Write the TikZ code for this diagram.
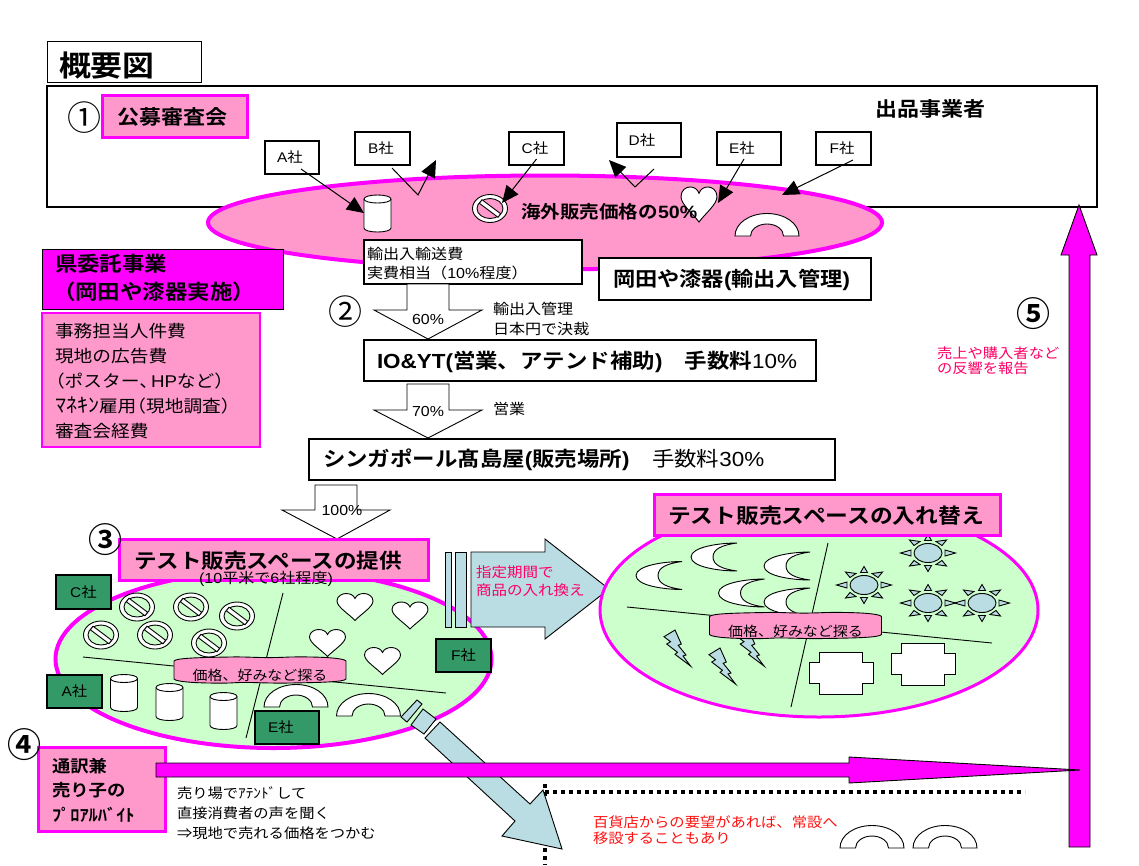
\documentclass[tikz,border=0pt]{standalone}
\usepackage{fontspec}
\usetikzlibrary{arrows.meta}
\setmainfont{Noto Sans CJK JP}[BoldFont={Noto Sans CJK JP Bold},FakeStretch=1.1]
\newfontfamily\latf{Liberation Sans}[FakeStretch=1.1]
\newfontfamily\circf{Noto Sans CJK JP}[BoldFont={Noto Sans CJK JP Bold}]
\newcommand\lat[1]{{\latf #1}}
\definecolor{pinkfill}{HTML}{FF99CC}
\definecolor{magentaline}{HTML}{FF00FF}
\definecolor{greenfill}{HTML}{CCFFCC}
\definecolor{darkgreenfill}{HTML}{339966}
\definecolor{bluefill}{HTML}{B9DDE2}
\definecolor{pinktext}{HTML}{FF0066}
\definecolor{redtext}{HTML}{FF1010}
\tikzset{
  fs/.style={font=\fontsize{#1}{#1}\selectfont},
  fsb/.style={font=\bfseries\fontsize{#1}{#1}\selectfont},
  tx/.style={inner sep=0pt,outer sep=0pt},
  txw/.style={inner sep=0pt,outer sep=0pt,anchor=west},
  whitebox/.style={draw=black,line width=2pt,fill=white,inner sep=0pt},
  pinkbox/.style={draw=magentaline,line width=3pt,fill=pinkfill,inner sep=0pt},
  greenbox/.style={draw=black,line width=2.5pt,fill=darkgreenfill,inner sep=0pt},
  conn/.style={draw=black,line width=1pt,-{Triangle[length=17pt,width=15pt]}},
  thinline/.style={draw=black,line width=0.9pt},
  blockw/.style={draw=black,line width=0.9pt,fill=white},
  blockb/.style={draw=black,line width=0.9pt,fill=bluefill},
  blockm/.style={draw=black,line width=0.9pt,fill=magentaline},
  dotline/.style={draw=black,line width=3.5pt,dash pattern=on 4pt off 4pt},
  canpic/.pic={
    \path[blockw] (-13.5,-14.5) .. controls (-13.5,-17) and (-7,-18.5) .. (0,-18.5) .. controls (7,-18.5) and (13.5,-17) .. (13.5,-14.5) -- (13.5,14.5) .. controls (13.5,17) and (7,18.5) .. (0,18.5) .. controls (-7,18.5) and (-13.5,17) .. (-13.5,14.5) -- cycle;
    \draw[thinline] (-13.5,-14.5) .. controls (-13.5,-12) and (-7,-10.5) .. (0,-10.5) .. controls (7,-10.5) and (13.5,-12) .. (13.5,-14.5);
  },
  nopic/.pic={
    \path[blockw,even odd rule] (0,0) ellipse[x radius=17.5,y radius=14] (0,0) ellipse[x radius=13,y radius=10];
    \path[blockw] (-8,-8.8) -- (10.6,5.2) -- (8,8.8) -- (-10.6,-5.2) -- cycle;
  },
  hartpic/.pic={
    \path[blockw] (0,13.5) .. controls (-6,7) and (-18,0) .. (-18,-6) .. controls (-18,-11) and (-13,-13.5) .. (-9,-13.5) .. controls (-5,-13.5) and (-1.5,-12) .. (0,-8.5) .. controls (1.5,-12) and (5,-13.5) .. (9,-13.5) .. controls (13,-13.5) and (18,-11) .. (18,-6) .. controls (18,0) and (6,7) .. (0,13.5) -- cycle;
  },
  arcpic/.pic={
    \path[blockw] (-32,0) .. controls (-32,-12.7) and (-17.7,-22.5) .. (0,-22.5) .. controls (17.7,-22.5) and (32,-12.7) .. (32,0) -- (16.5,0) .. controls (16.5,-6.6) and (9.1,-12) .. (0,-12) .. controls (-9.1,-12) and (-16.5,-6.6) .. (-16.5,0) -- cycle;
  },
  moonpic/.pic={
    \path[blockw] (23,-14) .. controls (5,-14) and (-23,-10) .. (-23,0) .. controls (-23,10) and (5,14) .. (23,14) .. controls (8,12) and (-1,8) .. (-1,0) .. controls (-1,-8) and (8,-12) .. (23,-14) -- cycle;
  },
  sunpic/.pic={
    \path[blockb] (0,0) ellipse[x radius=14,y radius=9.5];
    \path[blockb] (0,-18.5) -- (-3.5,-12.5) -- (3.5,-12.5) -- cycle;
    \path[blockb] (0,18.5) -- (-3.5,12.5) -- (3.5,12.5) -- cycle;
    \path[blockb] (27.5,0) -- (17,-3) -- (17,3) -- cycle;
    \path[blockb] (-27.5,0) -- (-17,-3) -- (-17,3) -- cycle;
    \path[blockb] (18.5,-13) -- (8,-11.5) -- (14,-7.5) -- cycle;
    \path[blockb] (-18.5,-13) -- (-8,-11.5) -- (-14,-7.5) -- cycle;
    \path[blockb] (18.5,13) -- (8,11.5) -- (14,7.5) -- cycle;
    \path[blockb] (-18.5,13) -- (-8,11.5) -- (-14,7.5) -- cycle;
  },
  boltpic/.pic={
    \path[blockb] (0,6.7) -- (11,0) -- (17.3,14) -- (14.2,15.3) -- (22,25) -- (19,26) -- (26.5,36) -- (11,24.3) -- (13.5,22.3) -- (2.7,14) -- (6.5,11.7) -- cycle;
  },
  plaquepic/.pic={
    \path[draw=black,line width=0.9pt,fill=pinkfill] (-86,-9) .. controls (-84,-12) and (-60,-12.5) .. (-30,-13) .. controls (-10,-13.5) and (0,-11.5) .. (30,-13) .. controls (60,-13.5) and (84,-12) .. (86,-9) -- (86,9) .. controls (84,12) and (60,12.5) .. (30,13) .. controls (0,13.5) and (-10,11.5) .. (-30,13) .. controls (-60,13.5) and (-84,12) .. (-86,9) -- cycle;
  },
  crosspic/.pic={
    \path[blockw] (-21.5,-21) -- (21.5,-21) -- (21.5,-10.5) -- (32,-10.5) -- (32,10.5) -- (21.5,10.5) -- (21.5,21) -- (-21.5,21) -- (-21.5,10.5) -- (-32,10.5) -- (-32,-10.5) -- (-21.5,-10.5) -- cycle;
  },
}
\begin{document}
\begin{tikzpicture}[x=1pt,y=-1pt]
\useasboundingbox (0,0) rectangle (1139,865);
% title
\node[draw=black,line width=1pt,fill=white,minimum width=154pt,minimum height=41pt,inner sep=0pt] (titlebox) at (124,61.5) {};
\node[tx,fsb=29,anchor=west] (titletext) at (59,66) {概要図};
% main exhibitor box
\node[whitebox,minimum width=1050pt,minimum height=121pt] (mainbox) at (572,146.5) {};
\node[tx,fs=34] (c1) at (84,118) {\circf ①};
\node[pinkbox,fsb=20,minimum width=145pt,minimum height=42pt] (koubo) at (175,116.5) {\kern-6pt公募審査会};
\node[tx,fsb=20] (shuppin) at (930.5,109) {出品事業者};
% big up arrow
\path[blockm] (1079,205) -- (1097,255) -- (1090,255) -- (1090,847) -- (1069,847) -- (1069,255) -- (1061,255) -- cycle;
% pink ellipse
\path[draw=magentaline,line width=4pt,fill=pinkfill] (545,222.5) ellipse[x radius=337,y radius=47];
\pic at (377.5,213.5) {canpic};
\pic at (490,208.5) {nopic};
\pic[yscale=1.3] at (699,204.5) {hartpic};
\pic at (767,236) {arcpic};
\node[tx,fsb=17.8,anchor=west] (kaigai) at (521,212) {海外販売価格の\lat{50\%}};
% companies
\node[whitebox,fs=14,minimum width=54pt,minimum height=33pt] (nA) at (292,157.5) {\lat{A}社\kern4pt};
\node[whitebox,fs=14,minimum width=55pt,minimum height=33pt] (nB) at (382.5,148.5) {\lat{B}社\kern3pt};
\node[whitebox,fs=14,minimum width=55pt,minimum height=33pt] (nC) at (536.5,148.5) {\lat{C}社\kern3pt};
\node[whitebox,fs=14,minimum width=64pt,minimum height=34pt] (nD) at (649,140) {\lat{D}社\kern14pt};
\node[whitebox,fs=14,minimum width=64pt,minimum height=33pt] (nE) at (749,148.5) {\lat{E}社\kern14pt};
\node[whitebox,fs=14,minimum width=55pt,minimum height=33pt] (nF) at (843.5,148.5) {\lat{F}社\kern3pt};
\coordinate (tA) at (364,213);
\coordinate (jB) at (418,195);
\coordinate (tB) at (436,160);
\coordinate (tC) at (502,203);
\coordinate (jD) at (635,187);
\coordinate (tD) at (609,160);
\coordinate (tE) at (718,203);
\coordinate (tF) at (782,195);
\draw[conn] ([xshift=9pt,yshift=6pt]nA.south) -- (tA);
\draw[conn] ([xshift=9.5pt,yshift=-2pt]nB.south) -- (jB) -- (tB);
\draw[conn] ([yshift=7pt]nC.south) -- (tC);
\draw[conn] ([xshift=5pt,yshift=-11pt]nD.south) -- (jD) -- (tD);
\draw[conn] ([xshift=-5pt,yshift=7pt]nE.south) -- (tE);
\draw[conn] ([xshift=9.5pt,yshift=6pt]nF.south) -- (tF);
% cost box and Okada box
\node[whitebox,minimum width=218pt,minimum height=44pt] (yushutsu) at (473,262) {};
\node[txw,font=\fontsize{14.6}{19}\selectfont,align=left] (yushutsutext) at (367,264) {輸出入輸送費\\実費相当（\lat{10\%}程度）};
\node[whitebox,minimum width=272pt,minimum height=42pt] (okada) at (735,279) {};
\node[txw,fsb=20.2] (okadatext) at (613,280) {岡田や漆器\lat{(}輸出入管理\lat{)}};
% left boxes
\node[draw=black,line width=1pt,fill=magentaline,minimum width=241pt,minimum height=60pt,inner sep=0pt] (ken) at (162.5,279.5) {};
\node[txw,font=\bfseries\fontsize{20.4}{28}\selectfont,align=left] (kentext) at (55,278) {県委託事業\\\kern-2pt（岡田や漆器実施）};
\node[draw=magentaline,line width=2pt,fill=pinkfill,minimum width=218pt,minimum height=134pt,inner sep=0pt] (listbox) at (151,380) {};
\node[txw,font=\fontsize{17}{25.2}\selectfont,align=left] (listtext) at (55,381) {事務担当人件費\\現地の広告費\\\kern-9pt（ポスター、\kern-7pt\lat{HP}など）\\{\fontsize{20}{25.2}\selectfont ﾏﾈｷﾝ}雇用\kern-9pt（現地調査）\\審査会経費};
% 60% block arrow
\path[blockw] (407,284) -- (449,284) -- (449,310) -- (482,310) -- (428,339) -- (374,310) -- (407,310) -- cycle;
\node[tx,fs=14.5] (p60) at (428,320) {\lat{60\%}};
\node[tx,fs=34] (c2) at (345,312) {\circf ②};
\node[txw,font=\fontsize{14.6}{20}\selectfont,align=left] (kanri) at (493,319) {輸出入管理\\日本円で決裁};
% IO box
\node[whitebox,minimum width=452pt,minimum height=41pt] (iobox) at (590,360.5) {};
\node[txw,fsb=20.4] (iotext) at (377,362) {\lat{IO\&YT(}営業、アテンド補助\lat{)}　手数料{\mdseries\lat{10\%}}};
% 70% block arrow
\path[blockw] (407,384) -- (449,384) -- (449,410) -- (482,410) -- (428,438) -- (374,410) -- (407,410) -- cycle;
\node[tx,fs=14.5] (p70) at (428,411) {\lat{70\%}};
\node[txw,fs=14.6] (eigyo) at (493,409) {営業};
% Singapore box
\node[whitebox,minimum width=526pt,minimum height=41pt] (sgbox) at (572,459.5) {};
\node[txw,fsb=20.4] (sgtext) at (323,460) {シンガポール髙島屋\lat{(}販売場所\lat{)}　{\mdseries 手数料\lat{30\%}}};
% 100% block arrow
\path[blockw] (315,485) -- (357,485) -- (357,510) -- (390,510) -- (337,539) -- (282,510) -- (315,510) -- cycle;
\node[tx,fs=14.5] (p100) at (342,510) {\lat{100\%}};
% right side labels
\node[tx,fs=34] (c5) at (1033,314) {\circf\bfseries ⑤};
\node[txw,font=\fontsize{13.9}{15}\selectfont,text=pinktext,align=left] (hankyo) at (937,361) {売上や購入者など\\の反響を報告};
% dotted lines
\coordinate (dotcorner) at (545,792);
\coordinate (dotend) at (1025,792);
\coordinate (dottop) at (545,784);
\coordinate (dotbottom) at (545,865);
\draw[dotline] (dottop) -- (dotbottom);
\draw[dotline] (dotcorner) -- (dotend);
% left green ellipse
\path[draw=magentaline,line width=4pt,fill=greenfill] (273.5,659) ellipse[x radius=218,y radius=89];
\foreach \p in {(137,607),(191,607),(237,616),(101,635),(155,635),(209,643)} {\pic at \p {nopic};}
\foreach \p in {(355,607),(410,615.5),(327.5,643),(382.5,661)} {\pic at \p {hartpic};}
\draw[thinline] (283,593) -- (246,738);
\draw[thinline] (83,657) -- (446,693);
\foreach \p in {(124,693),(169.5,702),(223.5,711)} {\pic at \p {canpic};}
\pic at (296,707) {arcpic};
\pic at (368.5,716) {arcpic};
\pic at (260,670) {plaquepic};
\node[tx,fs=13.6] (tanL) at (260,675) {価格、好みなど探る};
\node[pinkbox,minimum width=309pt,minimum height=41pt] (teikyo) at (273.5,559.5) {};
\node[txw,fsb=20.5] (teikyotext) at (134,561) {テスト販売スペースの提供};
\node[tx,fs=14.6] (heibei) at (266,578.5) {\lat{(10}平米で\lat{6}社程度\lat{)}};
\node[tx,fs=34] (c3) at (105,540) {\circf\bfseries ③};
\node[greenbox,fs=14,minimum width=55pt,minimum height=34pt] (gC) at (83.5,592) {\lat{C}社};
\node[greenbox,fs=14,minimum width=55pt,minimum height=33pt] (gA) at (74.5,691.5) {\lat{A}社};
\node[greenbox,fs=14,minimum width=64pt,minimum height=33pt] (gE) at (287,727.5) {\lat{E}社\kern12pt};
\node[greenbox,fs=14,minimum width=55pt,minimum height=33pt] (gF) at (463.5,655.5) {\lat{F}社};
% swap arrow
\path[blockb] (445,552) rectangle (451,627);
\path[blockb] (455,552) rectangle (466,627);
\path[blockb] (471,552) -- (545,552) -- (545,539) -- (609,589) -- (545,639) -- (545,627) -- (471,627) -- cycle;
\node[txw,font=\fontsize{14.1}{18}\selectfont,text=pinktext,align=left] (shitei) at (476,581) {指定期間で\\商品の入れ換え};
% right green ellipse
\path[draw=magentaline,line width=3pt,fill=greenfill] (819,610) ellipse[x radius=219,y radius=107];
\foreach \p in {(659,575.5),(714,557),(787,566),(741.5,593),(787,602)} {\pic at \p {moonpic};}
\foreach \p in {(928,553),(864,585),(928,603),(982,603)} {\pic at \p {sunpic};}
\foreach \p in {(664,630),(709,648),(737.5,630)} {\pic at \p {boltpic};}
\draw[thinline] (828,543) -- (791,707);
\draw[thinline] (627,607) -- (992,643);
\pic at (841,673) {crosspic};
\pic at (923,664) {crosspic};
\pic at (795.5,625.5) {plaquepic};
\node[tx,fs=13.6] (tanR) at (795.5,631) {価格、好みなど探る};
\node[pinkbox,minimum width=346pt,minimum height=41pt] (irekae) at (827.5,514.5) {};
\node[txw,fsb=20.7] (irekaetext) at (668,516) {テスト販売スペースの入れ替え};
% diagonal arrow
\path[blockb] (417,700) -- (422,704) -- (407,722) -- (401,717) -- cycle;
\path[blockb] (423,709) -- (436,719) -- (424,734) -- (411,725) -- cycle;
\path[blockb] (440,722) -- (530,804) -- (543,790) -- (562,849) -- (502,836) -- (515,821) -- (425,738) -- cycle;
% interpreter box
\node[pinkbox,minimum width=127pt,minimum height=84pt] (tsuyaku) at (101.5,789) {};
\node[txw,font=\bfseries\fontsize{16.7}{24.5}\selectfont,align=left] (tsuyakutext) at (52,790) {通訳兼\\売り子の\\ﾌﾟﾛｱﾙﾊﾞｲﾄ};
\node[tx,fs=34] (c4) at (24,745) {\circf\bfseries ④};
\node[txw,font=\fontsize{13.9}{20}\selectfont,align=left] (baba) at (177,813) {売り場でｱﾃﾝﾄﾞして\\直接消費者の声を聞く\\⇒現地で売れる価格をつかむ};
% horizontal magenta arrow
\path[blockm] (156,763) -- (849,763) -- (849,757) -- (1080,770) -- (849,783) -- (849,777) -- (156,777) -- cycle;
% bottom
\node[txw,font=\fontsize{13.9}{16}\selectfont,text=redtext,align=left] (depato) at (593,830) {百貨店からの要望があれば、常設へ\\移設することもあり};
\pic at (872,848) {arcpic};
\pic at (945,848) {arcpic};
\end{tikzpicture}
\end{document}
